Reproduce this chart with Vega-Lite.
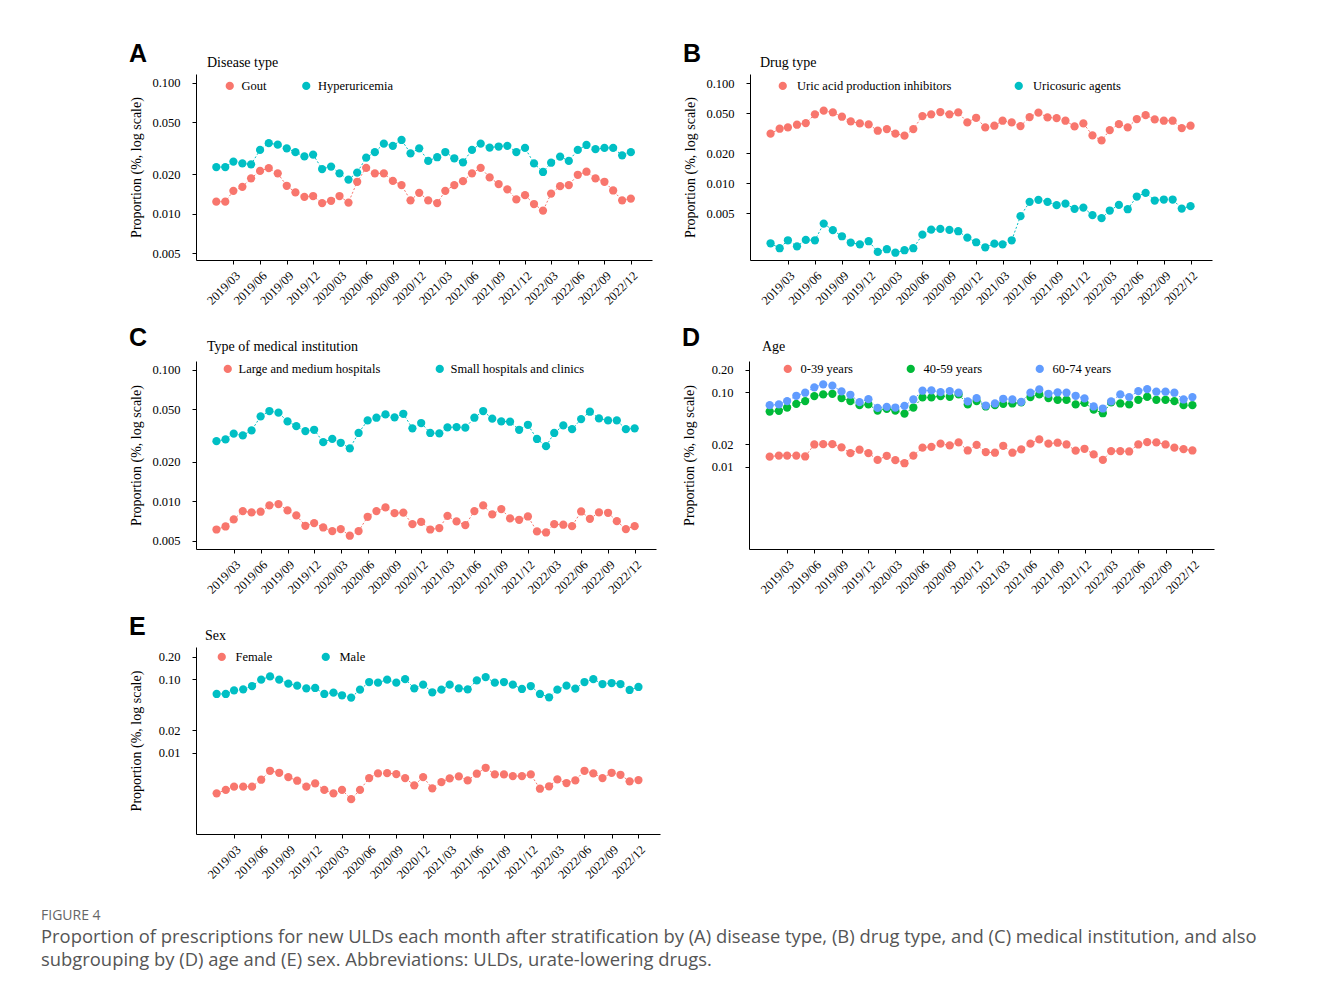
{
"$schema":"https://vega.github.io/schema/vega-lite/v6.json",
"background":"white",
"padding":{"left":41,"top":42,"right":10,"bottom":10},
"config":{
 "view":{"stroke":null},
 "font":"Liberation Serif",
 "axis":{"domainColor":"black","tickColor":"black","labelColor":"black","titleColor":"black","labelFont":"Liberation Serif","titleFont":"Liberation Serif","titleFontWeight":"normal","grid":false,"tickSize":4,"domainWidth":1,"tickWidth":1},
 "axisX":{"labelAngle":-45,"labelFontSize":12.5,"labelPadding":5,"labelOverlap":false},
 "axisY":{"labelFontSize":12.5,"labelPadding":12,"minExtent":45,"titlePadding":8,"titleFontSize":14},
 "legend":{"symbolType":"circle","symbolSize":68,"symbolStrokeWidth":0,"labelFont":"Liberation Serif","labelFontSize":12.5,"labelColor":"black"},
 "title":{"font":"Liberation Serif","fontWeight":"normal","color":"black","fontSize":14,"anchor":"start"}
},
"datasets":{
"A":[
{"month":"2019-01","group":"Gout","value":0.0124},{"month":"2019-02","group":"Gout","value":0.0124},{"month":"2019-03","group":"Gout","value":0.0150},{"month":"2019-04","group":"Gout","value":0.0161},{"month":"2019-05","group":"Gout","value":0.0187},{"month":"2019-06","group":"Gout","value":0.0213},{"month":"2019-07","group":"Gout","value":0.0224},{"month":"2019-08","group":"Gout","value":0.0204},{"month":"2019-09","group":"Gout","value":0.0164},{"month":"2019-10","group":"Gout","value":0.0146},{"month":"2019-11","group":"Gout","value":0.0135},{"month":"2019-12","group":"Gout","value":0.0137},
{"month":"2020-01","group":"Gout","value":0.0121},{"month":"2020-02","group":"Gout","value":0.0126},{"month":"2020-03","group":"Gout","value":0.0137},{"month":"2020-04","group":"Gout","value":0.0122},{"month":"2020-05","group":"Gout","value":0.0176},{"month":"2020-06","group":"Gout","value":0.0225},{"month":"2020-07","group":"Gout","value":0.0204},{"month":"2020-08","group":"Gout","value":0.0204},{"month":"2020-09","group":"Gout","value":0.0179},{"month":"2020-10","group":"Gout","value":0.0166},{"month":"2020-11","group":"Gout","value":0.0127},{"month":"2020-12","group":"Gout","value":0.0145},
{"month":"2021-01","group":"Gout","value":0.0127},{"month":"2021-02","group":"Gout","value":0.0121},{"month":"2021-03","group":"Gout","value":0.0150},{"month":"2021-04","group":"Gout","value":0.0166},{"month":"2021-05","group":"Gout","value":0.0178},{"month":"2021-06","group":"Gout","value":0.0204},{"month":"2021-07","group":"Gout","value":0.0225},{"month":"2021-08","group":"Gout","value":0.0190},{"month":"2021-09","group":"Gout","value":0.0169},{"month":"2021-10","group":"Gout","value":0.0154},{"month":"2021-11","group":"Gout","value":0.0129},{"month":"2021-12","group":"Gout","value":0.0139},
{"month":"2022-01","group":"Gout","value":0.0119},{"month":"2022-02","group":"Gout","value":0.0106},{"month":"2022-03","group":"Gout","value":0.0143},{"month":"2022-04","group":"Gout","value":0.0163},{"month":"2022-05","group":"Gout","value":0.0166},{"month":"2022-06","group":"Gout","value":0.0199},{"month":"2022-07","group":"Gout","value":0.0210},{"month":"2022-08","group":"Gout","value":0.0187},{"month":"2022-09","group":"Gout","value":0.0176},{"month":"2022-10","group":"Gout","value":0.0151},{"month":"2022-11","group":"Gout","value":0.0127},{"month":"2022-12","group":"Gout","value":0.0131},
{"month":"2019-01","group":"Hyperuricemia","value":0.0228},{"month":"2019-02","group":"Hyperuricemia","value":0.0228},{"month":"2019-03","group":"Hyperuricemia","value":0.0251},{"month":"2019-04","group":"Hyperuricemia","value":0.0243},{"month":"2019-05","group":"Hyperuricemia","value":0.0239},{"month":"2019-06","group":"Hyperuricemia","value":0.0308},{"month":"2019-07","group":"Hyperuricemia","value":0.0347},{"month":"2019-08","group":"Hyperuricemia","value":0.0338},{"month":"2019-09","group":"Hyperuricemia","value":0.0317},{"month":"2019-10","group":"Hyperuricemia","value":0.0296},{"month":"2019-11","group":"Hyperuricemia","value":0.0275},{"month":"2019-12","group":"Hyperuricemia","value":0.0284},
{"month":"2020-01","group":"Hyperuricemia","value":0.0220},{"month":"2020-02","group":"Hyperuricemia","value":0.0230},{"month":"2020-03","group":"Hyperuricemia","value":0.0204},{"month":"2020-04","group":"Hyperuricemia","value":0.0183},{"month":"2020-05","group":"Hyperuricemia","value":0.0207},{"month":"2020-06","group":"Hyperuricemia","value":0.0269},{"month":"2020-07","group":"Hyperuricemia","value":0.0296},{"month":"2020-08","group":"Hyperuricemia","value":0.0344},{"month":"2020-09","group":"Hyperuricemia","value":0.0331},{"month":"2020-10","group":"Hyperuricemia","value":0.0367},{"month":"2020-11","group":"Hyperuricemia","value":0.0290},{"month":"2020-12","group":"Hyperuricemia","value":0.0317},
{"month":"2021-01","group":"Hyperuricemia","value":0.0254},{"month":"2021-02","group":"Hyperuricemia","value":0.0271},{"month":"2021-03","group":"Hyperuricemia","value":0.0297},{"month":"2021-04","group":"Hyperuricemia","value":0.0266},{"month":"2021-05","group":"Hyperuricemia","value":0.0248},{"month":"2021-06","group":"Hyperuricemia","value":0.0308},{"month":"2021-07","group":"Hyperuricemia","value":0.0344},{"month":"2021-08","group":"Hyperuricemia","value":0.0321},{"month":"2021-09","group":"Hyperuricemia","value":0.0327},{"month":"2021-10","group":"Hyperuricemia","value":0.0331},{"month":"2021-11","group":"Hyperuricemia","value":0.0297},{"month":"2021-12","group":"Hyperuricemia","value":0.0319},
{"month":"2022-01","group":"Hyperuricemia","value":0.0243},{"month":"2022-02","group":"Hyperuricemia","value":0.0209},{"month":"2022-03","group":"Hyperuricemia","value":0.0246},{"month":"2022-04","group":"Hyperuricemia","value":0.0274},{"month":"2022-05","group":"Hyperuricemia","value":0.0254},{"month":"2022-06","group":"Hyperuricemia","value":0.0308},{"month":"2022-07","group":"Hyperuricemia","value":0.0336},{"month":"2022-08","group":"Hyperuricemia","value":0.0312},{"month":"2022-09","group":"Hyperuricemia","value":0.0319},{"month":"2022-10","group":"Hyperuricemia","value":0.0319},{"month":"2022-11","group":"Hyperuricemia","value":0.0280},{"month":"2022-12","group":"Hyperuricemia","value":0.0296}
],
"B":[
{"month":"2019-01","group":"Uric acid production inhibitors","value":0.0313},{"month":"2019-02","group":"Uric acid production inhibitors","value":0.0351},{"month":"2019-03","group":"Uric acid production inhibitors","value":0.0362},{"month":"2019-04","group":"Uric acid production inhibitors","value":0.0385},{"month":"2019-05","group":"Uric acid production inhibitors","value":0.0400},{"month":"2019-06","group":"Uric acid production inhibitors","value":0.0489},{"month":"2019-07","group":"Uric acid production inhibitors","value":0.0532},{"month":"2019-08","group":"Uric acid production inhibitors","value":0.0512},{"month":"2019-09","group":"Uric acid production inhibitors","value":0.0463},{"month":"2019-10","group":"Uric acid production inhibitors","value":0.0416},{"month":"2019-11","group":"Uric acid production inhibitors","value":0.0397},{"month":"2019-12","group":"Uric acid production inhibitors","value":0.0388},
{"month":"2020-01","group":"Uric acid production inhibitors","value":0.0335},{"month":"2020-02","group":"Uric acid production inhibitors","value":0.0348},{"month":"2020-03","group":"Uric acid production inhibitors","value":0.0313},{"month":"2020-04","group":"Uric acid production inhibitors","value":0.0299},{"month":"2020-05","group":"Uric acid production inhibitors","value":0.0348},{"month":"2020-06","group":"Uric acid production inhibitors","value":0.0470},{"month":"2020-07","group":"Uric acid production inhibitors","value":0.0489},{"month":"2020-08","group":"Uric acid production inhibitors","value":0.0516},{"month":"2020-09","group":"Uric acid production inhibitors","value":0.0489},{"month":"2020-10","group":"Uric acid production inhibitors","value":0.0512},{"month":"2020-11","group":"Uric acid production inhibitors","value":0.0406},{"month":"2020-12","group":"Uric acid production inhibitors","value":0.0452},
{"month":"2021-01","group":"Uric acid production inhibitors","value":0.0362},{"month":"2021-02","group":"Uric acid production inhibitors","value":0.0376},{"month":"2021-03","group":"Uric acid production inhibitors","value":0.0422},{"month":"2021-04","group":"Uric acid production inhibitors","value":0.0406},{"month":"2021-05","group":"Uric acid production inhibitors","value":0.0373},{"month":"2021-06","group":"Uric acid production inhibitors","value":0.0459},{"month":"2021-07","group":"Uric acid production inhibitors","value":0.0508},{"month":"2021-08","group":"Uric acid production inhibitors","value":0.0456},{"month":"2021-09","group":"Uric acid production inhibitors","value":0.0449},{"month":"2021-10","group":"Uric acid production inhibitors","value":0.0422},{"month":"2021-11","group":"Uric acid production inhibitors","value":0.0370},{"month":"2021-12","group":"Uric acid production inhibitors","value":0.0397},
{"month":"2022-01","group":"Uric acid production inhibitors","value":0.0301},{"month":"2022-02","group":"Uric acid production inhibitors","value":0.0268},{"month":"2022-03","group":"Uric acid production inhibitors","value":0.0340},{"month":"2022-04","group":"Uric acid production inhibitors","value":0.0391},{"month":"2022-05","group":"Uric acid production inhibitors","value":0.0362},{"month":"2022-06","group":"Uric acid production inhibitors","value":0.0439},{"month":"2022-07","group":"Uric acid production inhibitors","value":0.0481},{"month":"2022-08","group":"Uric acid production inhibitors","value":0.0435},{"month":"2022-09","group":"Uric acid production inhibitors","value":0.0422},{"month":"2022-10","group":"Uric acid production inhibitors","value":0.0422},{"month":"2022-11","group":"Uric acid production inhibitors","value":0.0356},{"month":"2022-12","group":"Uric acid production inhibitors","value":0.0376},
{"month":"2019-01","group":"Uricosuric agents","value":0.00250},{"month":"2019-02","group":"Uricosuric agents","value":0.00223},{"month":"2019-03","group":"Uricosuric agents","value":0.00268},{"month":"2019-04","group":"Uricosuric agents","value":0.00233},{"month":"2019-05","group":"Uricosuric agents","value":0.00270},{"month":"2019-06","group":"Uricosuric agents","value":0.00268},{"month":"2019-07","group":"Uricosuric agents","value":0.00394},{"month":"2019-08","group":"Uricosuric agents","value":0.00338},{"month":"2019-09","group":"Uricosuric agents","value":0.00294},{"month":"2019-10","group":"Uricosuric agents","value":0.00254},{"month":"2019-11","group":"Uricosuric agents","value":0.00244},{"month":"2019-12","group":"Uricosuric agents","value":0.00262},
{"month":"2020-01","group":"Uricosuric agents","value":0.00205},{"month":"2020-02","group":"Uricosuric agents","value":0.00218},{"month":"2020-03","group":"Uricosuric agents","value":0.00201},{"month":"2020-04","group":"Uricosuric agents","value":0.00213},{"month":"2020-05","group":"Uricosuric agents","value":0.00223},{"month":"2020-06","group":"Uricosuric agents","value":0.00305},{"month":"2020-07","group":"Uricosuric agents","value":0.00343},{"month":"2020-08","group":"Uricosuric agents","value":0.00348},{"month":"2020-09","group":"Uricosuric agents","value":0.00340},{"month":"2020-10","group":"Uricosuric agents","value":0.00330},{"month":"2020-11","group":"Uricosuric agents","value":0.00285},{"month":"2020-12","group":"Uricosuric agents","value":0.00256},
{"month":"2021-01","group":"Uricosuric agents","value":0.00228},{"month":"2021-02","group":"Uricosuric agents","value":0.00248},{"month":"2021-03","group":"Uricosuric agents","value":0.00244},{"month":"2021-04","group":"Uricosuric agents","value":0.00268},{"month":"2021-05","group":"Uricosuric agents","value":0.00467},{"month":"2021-06","group":"Uricosuric agents","value":0.00650},{"month":"2021-07","group":"Uricosuric agents","value":0.00681},{"month":"2021-08","group":"Uricosuric agents","value":0.00650},{"month":"2021-09","group":"Uricosuric agents","value":0.00602},{"month":"2021-10","group":"Uricosuric agents","value":0.00625},{"month":"2021-11","group":"Uricosuric agents","value":0.00553},{"month":"2021-12","group":"Uricosuric agents","value":0.00570},
{"month":"2022-01","group":"Uricosuric agents","value":0.00478},{"month":"2022-02","group":"Uricosuric agents","value":0.00446},{"month":"2022-03","group":"Uricosuric agents","value":0.00532},{"month":"2022-04","group":"Uricosuric agents","value":0.00606},{"month":"2022-05","group":"Uricosuric agents","value":0.00548},{"month":"2022-06","group":"Uricosuric agents","value":0.00735},{"month":"2022-07","group":"Uricosuric agents","value":0.00800},{"month":"2022-08","group":"Uricosuric agents","value":0.00670},{"month":"2022-09","group":"Uricosuric agents","value":0.00686},{"month":"2022-10","group":"Uricosuric agents","value":0.00686},{"month":"2022-11","group":"Uricosuric agents","value":0.00557},{"month":"2022-12","group":"Uricosuric agents","value":0.00588}
],
"C":[
{"month":"2019-01","group":"Large and medium hospitals","value":0.00608},{"month":"2019-02","group":"Large and medium hospitals","value":0.00641},{"month":"2019-03","group":"Large and medium hospitals","value":0.00725},{"month":"2019-04","group":"Large and medium hospitals","value":0.00839},{"month":"2019-05","group":"Large and medium hospitals","value":0.00820},{"month":"2019-06","group":"Large and medium hospitals","value":0.00830},{"month":"2019-07","group":"Large and medium hospitals","value":0.00927},{"month":"2019-08","group":"Large and medium hospitals","value":0.00949},{"month":"2019-09","group":"Large and medium hospitals","value":0.00849},{"month":"2019-10","group":"Large and medium hospitals","value":0.00778},{"month":"2019-11","group":"Large and medium hospitals","value":0.00649},{"month":"2019-12","group":"Large and medium hospitals","value":0.00680},
{"month":"2020-01","group":"Large and medium hospitals","value":0.00630},{"month":"2020-02","group":"Large and medium hospitals","value":0.00591},{"month":"2020-03","group":"Large and medium hospitals","value":0.00612},{"month":"2020-04","group":"Large and medium hospitals","value":0.00545},{"month":"2020-05","group":"Large and medium hospitals","value":0.00591},{"month":"2020-06","group":"Large and medium hospitals","value":0.00760},{"month":"2020-07","group":"Large and medium hospitals","value":0.00839},{"month":"2020-08","group":"Large and medium hospitals","value":0.00895},{"month":"2020-09","group":"Large and medium hospitals","value":0.00810},{"month":"2020-10","group":"Large and medium hospitals","value":0.00818},{"month":"2020-11","group":"Large and medium hospitals","value":0.00668},{"month":"2020-12","group":"Large and medium hospitals","value":0.00696},
{"month":"2021-01","group":"Large and medium hospitals","value":0.00608},{"month":"2021-02","group":"Large and medium hospitals","value":0.00623},{"month":"2021-03","group":"Large and medium hospitals","value":0.00773},{"month":"2021-04","group":"Large and medium hospitals","value":0.00700},{"month":"2021-05","group":"Large and medium hospitals","value":0.00657},{"month":"2021-06","group":"Large and medium hospitals","value":0.00839},{"month":"2021-07","group":"Large and medium hospitals","value":0.00927},{"month":"2021-08","group":"Large and medium hospitals","value":0.00792},{"month":"2021-09","group":"Large and medium hospitals","value":0.00869},{"month":"2021-10","group":"Large and medium hospitals","value":0.00738},{"month":"2021-11","group":"Large and medium hospitals","value":0.00721},{"month":"2021-12","group":"Large and medium hospitals","value":0.00764},
{"month":"2022-01","group":"Large and medium hospitals","value":0.00588},{"month":"2022-02","group":"Large and medium hospitals","value":0.00577},{"month":"2022-03","group":"Large and medium hospitals","value":0.00668},{"month":"2022-04","group":"Large and medium hospitals","value":0.00661},{"month":"2022-05","group":"Large and medium hospitals","value":0.00645},{"month":"2022-06","group":"Large and medium hospitals","value":0.00834},{"month":"2022-07","group":"Large and medium hospitals","value":0.00734},{"month":"2022-08","group":"Large and medium hospitals","value":0.00820},{"month":"2022-09","group":"Large and medium hospitals","value":0.00815},{"month":"2022-10","group":"Large and medium hospitals","value":0.00704},{"month":"2022-11","group":"Large and medium hospitals","value":0.00612},{"month":"2022-12","group":"Large and medium hospitals","value":0.00645},
{"month":"2019-01","group":"Small hospitals and clinics","value":0.0286},{"month":"2019-02","group":"Small hospitals and clinics","value":0.0295},{"month":"2019-03","group":"Small hospitals and clinics","value":0.0326},{"month":"2019-04","group":"Small hospitals and clinics","value":0.0316},{"month":"2019-05","group":"Small hospitals and clinics","value":0.0345},{"month":"2019-06","group":"Small hospitals and clinics","value":0.0441},{"month":"2019-07","group":"Small hospitals and clinics","value":0.0485},{"month":"2019-08","group":"Small hospitals and clinics","value":0.0471},{"month":"2019-09","group":"Small hospitals and clinics","value":0.0404},{"month":"2019-10","group":"Small hospitals and clinics","value":0.0372},{"month":"2019-11","group":"Small hospitals and clinics","value":0.0341},{"month":"2019-12","group":"Small hospitals and clinics","value":0.0349},
{"month":"2020-01","group":"Small hospitals and clinics","value":0.0281},{"month":"2020-02","group":"Small hospitals and clinics","value":0.0298},{"month":"2020-03","group":"Small hospitals and clinics","value":0.0278},{"month":"2020-04","group":"Small hospitals and clinics","value":0.0252},{"month":"2020-05","group":"Small hospitals and clinics","value":0.0330},{"month":"2020-06","group":"Small hospitals and clinics","value":0.0411},{"month":"2020-07","group":"Small hospitals and clinics","value":0.0431},{"month":"2020-08","group":"Small hospitals and clinics","value":0.0457},{"month":"2020-09","group":"Small hospitals and clinics","value":0.0434},{"month":"2020-10","group":"Small hospitals and clinics","value":0.0462},{"month":"2020-11","group":"Small hospitals and clinics","value":0.0358},{"month":"2020-12","group":"Small hospitals and clinics","value":0.0393},
{"month":"2021-01","group":"Small hospitals and clinics","value":0.0330},{"month":"2021-02","group":"Small hospitals and clinics","value":0.0328},{"month":"2021-03","group":"Small hospitals and clinics","value":0.0364},{"month":"2021-04","group":"Small hospitals and clinics","value":0.0366},{"month":"2021-05","group":"Small hospitals and clinics","value":0.0362},{"month":"2021-06","group":"Small hospitals and clinics","value":0.0431},{"month":"2021-07","group":"Small hospitals and clinics","value":0.0485},{"month":"2021-08","group":"Small hospitals and clinics","value":0.0424},{"month":"2021-09","group":"Small hospitals and clinics","value":0.0404},{"month":"2021-10","group":"Small hospitals and clinics","value":0.0402},{"month":"2021-11","group":"Small hospitals and clinics","value":0.0349},{"month":"2021-12","group":"Small hospitals and clinics","value":0.0381},
{"month":"2022-01","group":"Small hospitals and clinics","value":0.0297},{"month":"2022-02","group":"Small hospitals and clinics","value":0.0262},{"month":"2022-03","group":"Small hospitals and clinics","value":0.0330},{"month":"2022-04","group":"Small hospitals and clinics","value":0.0377},{"month":"2022-05","group":"Small hospitals and clinics","value":0.0353},{"month":"2022-06","group":"Small hospitals and clinics","value":0.0421},{"month":"2022-07","group":"Small hospitals and clinics","value":0.0479},{"month":"2022-08","group":"Small hospitals and clinics","value":0.0426},{"month":"2022-09","group":"Small hospitals and clinics","value":0.0411},{"month":"2022-10","group":"Small hospitals and clinics","value":0.0411},{"month":"2022-11","group":"Small hospitals and clinics","value":0.0353},{"month":"2022-12","group":"Small hospitals and clinics","value":0.0358}
],
"D":[
{"month":"2019-01","group":"0-39 years","value":0.0137},{"month":"2019-02","group":"0-39 years","value":0.0142},{"month":"2019-03","group":"0-39 years","value":0.0142},{"month":"2019-04","group":"0-39 years","value":0.0142},{"month":"2019-05","group":"0-39 years","value":0.0138},{"month":"2019-06","group":"0-39 years","value":0.0200},{"month":"2019-07","group":"0-39 years","value":0.0202},{"month":"2019-08","group":"0-39 years","value":0.0202},{"month":"2019-09","group":"0-39 years","value":0.0183},{"month":"2019-10","group":"0-39 years","value":0.0153},{"month":"2019-11","group":"0-39 years","value":0.0170},{"month":"2019-12","group":"0-39 years","value":0.0153},
{"month":"2020-01","group":"0-39 years","value":0.0124},{"month":"2020-02","group":"0-39 years","value":0.0141},{"month":"2020-03","group":"0-39 years","value":0.0123},{"month":"2020-04","group":"0-39 years","value":0.0112},{"month":"2020-05","group":"0-39 years","value":0.0142},{"month":"2020-06","group":"0-39 years","value":0.0181},{"month":"2020-07","group":"0-39 years","value":0.0186},{"month":"2020-08","group":"0-39 years","value":0.0205},{"month":"2020-09","group":"0-39 years","value":0.0194},{"month":"2020-10","group":"0-39 years","value":0.0213},{"month":"2020-11","group":"0-39 years","value":0.0166},{"month":"2020-12","group":"0-39 years","value":0.0198},
{"month":"2021-01","group":"0-39 years","value":0.0158},{"month":"2021-02","group":"0-39 years","value":0.0155},{"month":"2021-03","group":"0-39 years","value":0.0192},{"month":"2021-04","group":"0-39 years","value":0.0155},{"month":"2021-05","group":"0-39 years","value":0.0172},{"month":"2021-06","group":"0-39 years","value":0.0205},{"month":"2021-07","group":"0-39 years","value":0.0234},{"month":"2021-08","group":"0-39 years","value":0.0205},{"month":"2021-09","group":"0-39 years","value":0.0211},{"month":"2021-10","group":"0-39 years","value":0.0200},{"month":"2021-11","group":"0-39 years","value":0.0165},{"month":"2021-12","group":"0-39 years","value":0.0175},
{"month":"2022-01","group":"0-39 years","value":0.0147},{"month":"2022-02","group":"0-39 years","value":0.0124},{"month":"2022-03","group":"0-39 years","value":0.0163},{"month":"2022-04","group":"0-39 years","value":0.0163},{"month":"2022-05","group":"0-39 years","value":0.0161},{"month":"2022-06","group":"0-39 years","value":0.0200},{"month":"2022-07","group":"0-39 years","value":0.0215},{"month":"2022-08","group":"0-39 years","value":0.0213},{"month":"2022-09","group":"0-39 years","value":0.0200},{"month":"2022-10","group":"0-39 years","value":0.0181},{"month":"2022-11","group":"0-39 years","value":0.0173},{"month":"2022-12","group":"0-39 years","value":0.0166},
{"month":"2019-01","group":"40-59 years","value":0.0554},{"month":"2019-02","group":"40-59 years","value":0.0565},{"month":"2019-03","group":"40-59 years","value":0.0627},{"month":"2019-04","group":"40-59 years","value":0.0703},{"month":"2019-05","group":"40-59 years","value":0.0764},{"month":"2019-06","group":"40-59 years","value":0.0892},{"month":"2019-07","group":"40-59 years","value":0.0940},{"month":"2019-08","group":"40-59 years","value":0.0959},{"month":"2019-09","group":"40-59 years","value":0.0838},{"month":"2019-10","group":"40-59 years","value":0.0764},{"month":"2019-11","group":"40-59 years","value":0.0674},{"month":"2019-12","group":"40-59 years","value":0.0689},
{"month":"2020-01","group":"40-59 years","value":0.0571},{"month":"2020-02","group":"40-59 years","value":0.0602},{"month":"2020-03","group":"40-59 years","value":0.0571},{"month":"2020-04","group":"40-59 years","value":0.0520},{"month":"2020-05","group":"40-59 years","value":0.0627},{"month":"2020-06","group":"40-59 years","value":0.0856},{"month":"2020-07","group":"40-59 years","value":0.0856},{"month":"2020-08","group":"40-59 years","value":0.0892},{"month":"2020-09","group":"40-59 years","value":0.0874},{"month":"2020-10","group":"40-59 years","value":0.0940},{"month":"2020-11","group":"40-59 years","value":0.0689},{"month":"2020-12","group":"40-59 years","value":0.0764},
{"month":"2021-01","group":"40-59 years","value":0.0647},{"month":"2021-02","group":"40-59 years","value":0.0674},{"month":"2021-03","group":"40-59 years","value":0.0703},{"month":"2021-04","group":"40-59 years","value":0.0710},{"month":"2021-05","group":"40-59 years","value":0.0733},{"month":"2021-06","group":"40-59 years","value":0.0865},{"month":"2021-07","group":"40-59 years","value":0.0940},{"month":"2021-08","group":"40-59 years","value":0.0838},{"month":"2021-09","group":"40-59 years","value":0.0796},{"month":"2021-10","group":"40-59 years","value":0.0796},{"month":"2021-11","group":"40-59 years","value":0.0689},{"month":"2021-12","group":"40-59 years","value":0.0725},
{"month":"2022-01","group":"40-59 years","value":0.0589},{"month":"2022-02","group":"40-59 years","value":0.0525},{"month":"2022-03","group":"40-59 years","value":0.0733},{"month":"2022-04","group":"40-59 years","value":0.0710},{"month":"2022-05","group":"40-59 years","value":0.0689},{"month":"2022-06","group":"40-59 years","value":0.0796},{"month":"2022-07","group":"40-59 years","value":0.0874},{"month":"2022-08","group":"40-59 years","value":0.0796},{"month":"2022-09","group":"40-59 years","value":0.0796},{"month":"2022-10","group":"40-59 years","value":0.0764},{"month":"2022-11","group":"40-59 years","value":0.0674},{"month":"2022-12","group":"40-59 years","value":0.0674},
{"month":"2019-01","group":"60-74 years","value":0.0674},{"month":"2019-02","group":"60-74 years","value":0.0689},{"month":"2019-03","group":"60-74 years","value":0.0764},{"month":"2019-04","group":"60-74 years","value":0.0901},{"month":"2019-05","group":"60-74 years","value":0.0990},{"month":"2019-06","group":"60-74 years","value":0.1169},{"month":"2019-07","group":"60-74 years","value":0.1283},{"month":"2019-08","group":"60-74 years","value":0.1231},{"month":"2019-09","group":"60-74 years","value":0.1032},{"month":"2019-10","group":"60-74 years","value":0.0930},{"month":"2019-11","group":"60-74 years","value":0.0740},{"month":"2019-12","group":"60-74 years","value":0.0812},
{"month":"2020-01","group":"60-74 years","value":0.0621},{"month":"2020-02","group":"60-74 years","value":0.0640},{"month":"2020-03","group":"60-74 years","value":0.0627},{"month":"2020-04","group":"60-74 years","value":0.0661},{"month":"2020-05","group":"60-74 years","value":0.0804},{"month":"2020-06","group":"60-74 years","value":0.1053},{"month":"2020-07","group":"60-74 years","value":0.1064},{"month":"2020-08","group":"60-74 years","value":0.1010},{"month":"2020-09","group":"60-74 years","value":0.1042},{"month":"2020-10","group":"60-74 years","value":0.0990},{"month":"2020-11","group":"60-74 years","value":0.0756},{"month":"2020-12","group":"60-74 years","value":0.0838},
{"month":"2021-01","group":"60-74 years","value":0.0667},{"month":"2021-02","group":"60-74 years","value":0.0710},{"month":"2021-03","group":"60-74 years","value":0.0821},{"month":"2021-04","group":"60-74 years","value":0.0804},{"month":"2021-05","group":"60-74 years","value":0.0748},{"month":"2021-06","group":"60-74 years","value":0.0990},{"month":"2021-07","group":"60-74 years","value":0.1098},{"month":"2021-08","group":"60-74 years","value":0.0959},{"month":"2021-09","group":"60-74 years","value":0.1000},{"month":"2021-10","group":"60-74 years","value":0.0990},{"month":"2021-11","group":"60-74 years","value":0.0901},{"month":"2021-12","group":"60-74 years","value":0.0830},
{"month":"2022-01","group":"60-74 years","value":0.0647},{"month":"2022-02","group":"60-74 years","value":0.0608},{"month":"2022-03","group":"60-74 years","value":0.0756},{"month":"2022-04","group":"60-74 years","value":0.0940},{"month":"2022-05","group":"60-74 years","value":0.0865},{"month":"2022-06","group":"60-74 years","value":0.1042},{"month":"2022-07","group":"60-74 years","value":0.1109},{"month":"2022-08","group":"60-74 years","value":0.1021},{"month":"2022-09","group":"60-74 years","value":0.1021},{"month":"2022-10","group":"60-74 years","value":0.0990},{"month":"2022-11","group":"60-74 years","value":0.0804},{"month":"2022-12","group":"60-74 years","value":0.0865}
],
"E":[
{"month":"2019-01","group":"Female","value":0.00279},{"month":"2019-02","group":"Female","value":0.00310},{"month":"2019-03","group":"Female","value":0.00344},{"month":"2019-04","group":"Female","value":0.00344},{"month":"2019-05","group":"Female","value":0.00344},{"month":"2019-06","group":"Female","value":0.00427},{"month":"2019-07","group":"Female","value":0.00565},{"month":"2019-08","group":"Female","value":0.00531},{"month":"2019-09","group":"Female","value":0.00464},{"month":"2019-10","group":"Female","value":0.00414},{"month":"2019-11","group":"Female","value":0.00344},{"month":"2019-12","group":"Female","value":0.00381},
{"month":"2020-01","group":"Female","value":0.00310},{"month":"2020-02","group":"Female","value":0.00279},{"month":"2020-03","group":"Female","value":0.00310},{"month":"2020-04","group":"Female","value":0.00232},{"month":"2020-05","group":"Female","value":0.00310},{"month":"2020-06","group":"Female","value":0.00450},{"month":"2020-07","group":"Female","value":0.00520},{"month":"2020-08","group":"Female","value":0.00525},{"month":"2020-09","group":"Female","value":0.00509},{"month":"2020-10","group":"Female","value":0.00450},{"month":"2020-11","group":"Female","value":0.00358},{"month":"2020-12","group":"Female","value":0.00464},
{"month":"2021-01","group":"Female","value":0.00326},{"month":"2021-02","group":"Female","value":0.00397},{"month":"2021-03","group":"Female","value":0.00445},{"month":"2021-04","group":"Female","value":0.00474},{"month":"2021-05","group":"Female","value":0.00418},{"month":"2021-06","group":"Female","value":0.00515},{"month":"2021-07","group":"Female","value":0.00621},{"month":"2021-08","group":"Female","value":0.00504},{"month":"2021-09","group":"Female","value":0.00504},{"month":"2021-10","group":"Female","value":0.00479},{"month":"2021-11","group":"Female","value":0.00479},{"month":"2021-12","group":"Female","value":0.00504},
{"month":"2022-01","group":"Female","value":0.00322},{"month":"2022-02","group":"Female","value":0.00348},{"month":"2022-03","group":"Female","value":0.00432},{"month":"2022-04","group":"Female","value":0.00385},{"month":"2022-05","group":"Female","value":0.00418},{"month":"2022-06","group":"Female","value":0.00565},{"month":"2022-07","group":"Female","value":0.00520},{"month":"2022-08","group":"Female","value":0.00450},{"month":"2022-09","group":"Female","value":0.00531},{"month":"2022-10","group":"Female","value":0.00499},{"month":"2022-11","group":"Female","value":0.00406},{"month":"2022-12","group":"Female","value":0.00422},
{"month":"2019-01","group":"Male","value":0.0627},{"month":"2019-02","group":"Male","value":0.0627},{"month":"2019-03","group":"Male","value":0.0703},{"month":"2019-04","group":"Male","value":0.0725},{"month":"2019-05","group":"Male","value":0.0804},{"month":"2019-06","group":"Male","value":0.0981},{"month":"2019-07","group":"Male","value":0.1086},{"month":"2019-08","group":"Male","value":0.0981},{"month":"2019-09","group":"Male","value":0.0865},{"month":"2019-10","group":"Male","value":0.0812},{"month":"2019-11","group":"Male","value":0.0748},{"month":"2019-12","group":"Male","value":0.0756},
{"month":"2020-01","group":"Male","value":0.0627},{"month":"2020-02","group":"Male","value":0.0654},{"month":"2020-03","group":"Male","value":0.0602},{"month":"2020-04","group":"Male","value":0.0560},{"month":"2020-05","group":"Male","value":0.0718},{"month":"2020-06","group":"Male","value":0.0911},{"month":"2020-07","group":"Male","value":0.0892},{"month":"2020-08","group":"Male","value":0.0981},{"month":"2020-09","group":"Male","value":0.0892},{"month":"2020-10","group":"Male","value":0.1000},{"month":"2020-11","group":"Male","value":0.0748},{"month":"2020-12","group":"Male","value":0.0838},
{"month":"2021-01","group":"Male","value":0.0661},{"month":"2021-02","group":"Male","value":0.0718},{"month":"2021-03","group":"Male","value":0.0838},{"month":"2021-04","group":"Male","value":0.0748},{"month":"2021-05","group":"Male","value":0.0725},{"month":"2021-06","group":"Male","value":0.0959},{"month":"2021-07","group":"Male","value":0.1064},{"month":"2021-08","group":"Male","value":0.0892},{"month":"2021-09","group":"Male","value":0.0911},{"month":"2021-10","group":"Male","value":0.0838},{"month":"2021-11","group":"Male","value":0.0733},{"month":"2021-12","group":"Male","value":0.0804},
{"month":"2022-01","group":"Male","value":0.0627},{"month":"2022-02","group":"Male","value":0.0565},{"month":"2022-03","group":"Male","value":0.0718},{"month":"2022-04","group":"Male","value":0.0812},{"month":"2022-05","group":"Male","value":0.0740},{"month":"2022-06","group":"Male","value":0.0911},{"month":"2022-07","group":"Male","value":0.1000},{"month":"2022-08","group":"Male","value":0.0856},{"month":"2022-09","group":"Male","value":0.0883},{"month":"2022-10","group":"Male","value":0.0856},{"month":"2022-11","group":"Male","value":0.0710},{"month":"2022-12","group":"Male","value":0.0780}
]
},
"title":{"text":"FIGURE 4","subtitle":["Proportion of prescriptions for new ULDs each month after stratification by (A) disease type, (B) drug type, and (C) medical institution, and also","subgrouping by (D) age and (E) sex. Abbreviations: ULDs, urate-lowering drugs."],"orient":"bottom","anchor":"start","frame":"bounds","dx":-88,"offset":28,"font":"Open Sans","fontSize":14,"fontWeight":"normal","color":"#666666","subtitleFont":"Open Sans","subtitleFontSize":18.4,"subtitleColor":"#555555","subtitleLineHeight":23,"subtitlePadding":5},
"spacing":19,
"resolve":{"scale":{"x":"independent","y":"independent","color":"independent","stroke":"independent"},"legend":{"color":"independent"}},
"vconcat":[
{"hconcat":[
 {"title":{"text":"A","frame":"bounds","font":"Liberation Sans","fontSize":25,"fontWeight":"bold","offset":-11},
  "vconcat":[{
  "title":{"text":"Disease type","frame":"group","dx":11,"offset":4},
  "width":456,"height":186,"data":{"name":"A"},
  "encoding":{"x":{"field":"month","type":"temporal","scale":{"type":"utc","nice":false,"domain":[{"year":2018,"month":10,"date":23,"utc":true},{"year":2023,"month":2,"date":12,"utc":true}]},"axis":{"title":null,"format":"%Y/%m","values":[{"year":2019,"month":3,"date":1,"utc":true},{"year":2019,"month":6,"date":1,"utc":true},{"year":2019,"month":9,"date":1,"utc":true},{"year":2019,"month":12,"date":1,"utc":true},{"year":2020,"month":3,"date":1,"utc":true},{"year":2020,"month":6,"date":1,"utc":true},{"year":2020,"month":9,"date":1,"utc":true},{"year":2020,"month":12,"date":1,"utc":true},{"year":2021,"month":3,"date":1,"utc":true},{"year":2021,"month":6,"date":1,"utc":true},{"year":2021,"month":9,"date":1,"utc":true},{"year":2021,"month":12,"date":1,"utc":true},{"year":2022,"month":3,"date":1,"utc":true},{"year":2022,"month":6,"date":1,"utc":true},{"year":2022,"month":9,"date":1,"utc":true},{"year":2022,"month":12,"date":1,"utc":true}]}},
   "y":{"field":"value","type":"quantitative","scale":{"type":"log","domain":[0.00445,0.117],"nice":false},"axis":{"title":"Proportion (%, log scale)","values":[0.005,0.01,0.02,0.05,0.1],"format":".3f"}}},
  "layer":[
   {"mark":{"type":"line","strokeDash":[2,2],"strokeWidth":1},"encoding":{"stroke":{"field":"group","type":"nominal","scale":{"range":["#F8766D","#00BFC4"]},"legend":null}}},
   {"mark":{"type":"point","filled":true,"size":68,"opacity":1},"encoding":{"color":{"field":"group","type":"nominal","scale":{"domain":["Gout","Hyperuricemia"],"range":["#F8766D","#00BFC4"]},"legend":{"title":null,"orient":"none","direction":"horizontal","legendX":27.5,"legendY":5.5,"labelOffset":5.5,"columnPadding":33.5}}}}
  ]}]},
 {"title":{"text":"B","frame":"bounds","font":"Liberation Sans","fontSize":25,"fontWeight":"bold","offset":-11},
  "vconcat":[{
  "title":{"text":"Drug type","frame":"group","dx":10,"offset":4},
  "width":462,"height":186,"data":{"name":"B"},
  "encoding":{"x":{"field":"month","type":"temporal","scale":{"type":"utc","nice":false,"domain":[{"year":2018,"month":10,"date":23,"utc":true},{"year":2023,"month":2,"date":12,"utc":true}]},"axis":{"title":null,"format":"%Y/%m","values":[{"year":2019,"month":3,"date":1,"utc":true},{"year":2019,"month":6,"date":1,"utc":true},{"year":2019,"month":9,"date":1,"utc":true},{"year":2019,"month":12,"date":1,"utc":true},{"year":2020,"month":3,"date":1,"utc":true},{"year":2020,"month":6,"date":1,"utc":true},{"year":2020,"month":9,"date":1,"utc":true},{"year":2020,"month":12,"date":1,"utc":true},{"year":2021,"month":3,"date":1,"utc":true},{"year":2021,"month":6,"date":1,"utc":true},{"year":2021,"month":9,"date":1,"utc":true},{"year":2021,"month":12,"date":1,"utc":true},{"year":2022,"month":3,"date":1,"utc":true},{"year":2022,"month":6,"date":1,"utc":true},{"year":2022,"month":9,"date":1,"utc":true},{"year":2022,"month":12,"date":1,"utc":true}]}},
   "y":{"field":"value","type":"quantitative","scale":{"type":"log","domain":[0.0017,0.124],"nice":false},"axis":{"title":"Proportion (%, log scale)","values":[0.005,0.01,0.02,0.05,0.1],"format":".3f"}}},
  "layer":[
   {"mark":{"type":"line","strokeDash":[2,2],"strokeWidth":1},"encoding":{"stroke":{"field":"group","type":"nominal","scale":{"range":["#F8766D","#00BFC4"]},"legend":null}}},
   {"mark":{"type":"point","filled":true,"size":68,"opacity":1},"encoding":{"color":{"field":"group","type":"nominal","scale":{"domain":["Uric acid production inhibitors","Uricosuric agents"],"range":["#F8766D","#00BFC4"]},"legend":{"title":null,"orient":"none","direction":"horizontal","legendX":26.5,"legendY":5.5,"labelOffset":8,"columnPadding":61}}}}
  ]}]}
 ],"spacing":31,"resolve":{"scale":{"x":"independent","y":"independent","color":"independent","stroke":"independent"},"legend":{"color":"independent"}}},
{"hconcat":[
 {"title":{"text":"C","frame":"bounds","font":"Liberation Sans","fontSize":25,"fontWeight":"bold","offset":-11},
  "vconcat":[{
  "title":{"text":"Type of medical institution","frame":"group","dx":11,"offset":7},
  "width":460,"height":188,"data":{"name":"C"},
  "encoding":{"x":{"field":"month","type":"temporal","scale":{"type":"utc","nice":false,"domain":[{"year":2018,"month":10,"date":23,"utc":true},{"year":2023,"month":2,"date":12,"utc":true}]},"axis":{"title":null,"format":"%Y/%m","values":[{"year":2019,"month":3,"date":1,"utc":true},{"year":2019,"month":6,"date":1,"utc":true},{"year":2019,"month":9,"date":1,"utc":true},{"year":2019,"month":12,"date":1,"utc":true},{"year":2020,"month":3,"date":1,"utc":true},{"year":2020,"month":6,"date":1,"utc":true},{"year":2020,"month":9,"date":1,"utc":true},{"year":2020,"month":12,"date":1,"utc":true},{"year":2021,"month":3,"date":1,"utc":true},{"year":2021,"month":6,"date":1,"utc":true},{"year":2021,"month":9,"date":1,"utc":true},{"year":2021,"month":12,"date":1,"utc":true},{"year":2022,"month":3,"date":1,"utc":true},{"year":2022,"month":6,"date":1,"utc":true},{"year":2022,"month":9,"date":1,"utc":true},{"year":2022,"month":12,"date":1,"utc":true}]}},
   "y":{"field":"value","type":"quantitative","scale":{"type":"log","domain":[0.00432,0.1165],"nice":false},"axis":{"title":"Proportion (%, log scale)","values":[0.005,0.01,0.02,0.05,0.1],"format":".3f"}}},
  "layer":[
   {"mark":{"type":"line","strokeDash":[2,2],"strokeWidth":1},"encoding":{"stroke":{"field":"group","type":"nominal","scale":{"range":["#F8766D","#00BFC4"]},"legend":null}}},
   {"mark":{"type":"point","filled":true,"size":68,"opacity":1},"encoding":{"color":{"field":"group","type":"nominal","scale":{"domain":["Large and medium hospitals","Small hospitals and clinics"],"range":["#F8766D","#00BFC4"]},"legend":{"title":null,"orient":"none","direction":"horizontal","legendX":25.5,"legendY":1.5,"labelOffset":4.5,"columnPadding":53}}}}
  ]}]},
 {"title":{"text":"D","frame":"bounds","font":"Liberation Sans","fontSize":25,"fontWeight":"bold","offset":-11},
  "vconcat":[{
  "title":{"text":"Age","frame":"group","dx":13,"offset":7},
  "width":465,"height":188,"data":{"name":"D"},
  "encoding":{"x":{"field":"month","type":"temporal","scale":{"type":"utc","nice":false,"domain":[{"year":2018,"month":10,"date":23,"utc":true},{"year":2023,"month":2,"date":12,"utc":true}]},"axis":{"title":null,"format":"%Y/%m","values":[{"year":2019,"month":3,"date":1,"utc":true},{"year":2019,"month":6,"date":1,"utc":true},{"year":2019,"month":9,"date":1,"utc":true},{"year":2019,"month":12,"date":1,"utc":true},{"year":2020,"month":3,"date":1,"utc":true},{"year":2020,"month":6,"date":1,"utc":true},{"year":2020,"month":9,"date":1,"utc":true},{"year":2020,"month":12,"date":1,"utc":true},{"year":2021,"month":3,"date":1,"utc":true},{"year":2021,"month":6,"date":1,"utc":true},{"year":2021,"month":9,"date":1,"utc":true},{"year":2021,"month":12,"date":1,"utc":true},{"year":2022,"month":3,"date":1,"utc":true},{"year":2022,"month":6,"date":1,"utc":true},{"year":2022,"month":9,"date":1,"utc":true},{"year":2022,"month":12,"date":1,"utc":true}]}},
   "y":{"field":"value","type":"quantitative","scale":{"type":"log","domain":[0.00079,0.264],"nice":false},"axis":{"title":"Proportion (%, log scale)","values":[0.01,0.02,0.1,0.2],"format":".2f"}}},
  "layer":[
   {"mark":{"type":"line","strokeDash":[2,2],"strokeWidth":1},"encoding":{"stroke":{"field":"group","type":"nominal","scale":{"range":["#F8766D","#00BA38","#619CFF"]},"legend":null}}},
   {"mark":{"type":"point","filled":true,"size":68,"opacity":1},"encoding":{"color":{"field":"group","type":"nominal","scale":{"domain":["0-39 years","40-59 years","60-74 years"],"range":["#F8766D","#00BA38","#619CFF"]},"legend":{"title":null,"orient":"none","direction":"horizontal","legendX":32.5,"legendY":1.5,"labelOffset":6.5,"columnPadding":51}}}}
  ]}]}
 ],"spacing":26,"resolve":{"scale":{"x":"independent","y":"independent","color":"independent","stroke":"independent"},"legend":{"color":"independent"}}},
{"title":{"text":"E","frame":"bounds","font":"Liberation Sans","fontSize":25,"fontWeight":"bold","offset":-11},
  "vconcat":[{
  "title":{"text":"Sex","frame":"group","dx":9,"offset":4},
  "width":464,"height":187,"data":{"name":"E"},
  "encoding":{"x":{"field":"month","type":"temporal","scale":{"type":"utc","nice":false,"domain":[{"year":2018,"month":10,"date":23,"utc":true},{"year":2023,"month":2,"date":12,"utc":true}]},"axis":{"title":null,"format":"%Y/%m","values":[{"year":2019,"month":3,"date":1,"utc":true},{"year":2019,"month":6,"date":1,"utc":true},{"year":2019,"month":9,"date":1,"utc":true},{"year":2019,"month":12,"date":1,"utc":true},{"year":2020,"month":3,"date":1,"utc":true},{"year":2020,"month":6,"date":1,"utc":true},{"year":2020,"month":9,"date":1,"utc":true},{"year":2020,"month":12,"date":1,"utc":true},{"year":2021,"month":3,"date":1,"utc":true},{"year":2021,"month":6,"date":1,"utc":true},{"year":2021,"month":9,"date":1,"utc":true},{"year":2021,"month":12,"date":1,"utc":true},{"year":2022,"month":3,"date":1,"utc":true},{"year":2022,"month":6,"date":1,"utc":true},{"year":2022,"month":9,"date":1,"utc":true},{"year":2022,"month":12,"date":1,"utc":true}]}},
   "y":{"field":"value","type":"quantitative","scale":{"type":"log","domain":[0.00078,0.273],"nice":false},"axis":{"title":"Proportion (%, log scale)","values":[0.01,0.02,0.1,0.2],"format":".2f"}}},
  "layer":[
   {"mark":{"type":"line","strokeDash":[2,2],"strokeWidth":1},"encoding":{"stroke":{"field":"group","type":"nominal","scale":{"range":["#F8766D","#00BFC4"]},"legend":null}}},
   {"mark":{"type":"point","filled":true,"size":68,"opacity":1},"encoding":{"color":{"field":"group","type":"nominal","scale":{"domain":["Female","Male"],"range":["#F8766D","#00BFC4"]},"legend":{"title":null,"orient":"none","direction":"horizontal","legendX":19.5,"legendY":3.5,"labelOffset":7.5,"columnPadding":47}}}}
  ]}]}
]
}
